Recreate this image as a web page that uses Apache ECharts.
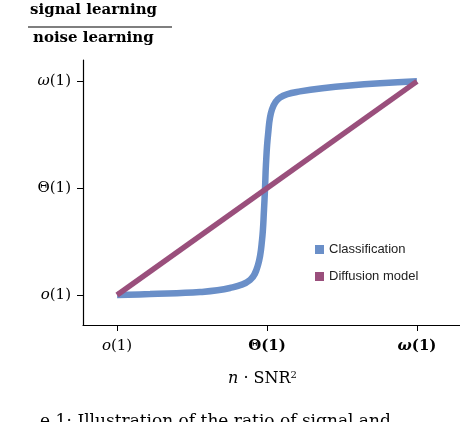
<!DOCTYPE html>
<html>
<head>
<meta charset="utf-8">
<script src="https://cdn.jsdelivr.net/npm/echarts@6/dist/echarts.min.js"></script>
<style>html,body{margin:0;padding:0;background:#fff}#c{width:460px;height:422px}</style>
</head>
<body>
<div id="c"></div>
<script>
'use strict';
// x: 0 = o(1), 1 = Θ(1), 2 = ω(1); same for y
const xTicks = [0, 1, 2];
const yTicks = [0, 1, 2];
const xTickLabels = ['{i|o}(1)', '{b|Θ(1)}', '{bi|ω}{b|(1)}'];
const yTickLabels = ['{i|o}(1)', 'Θ(1)', '{i|ω}(1)'];

const classification = [
    [0, 0], [0.22, 0.01], [0.553, 0.028], [0.753, 0.066], [0.887, 0.141],
    [0.94, 0.282], [0.967, 0.516], [0.98, 0.798], [0.987, 1.005], [0.993, 1.221],
    [1.007, 1.502], [1.033, 1.737], [1.087, 1.85], [1.22, 1.906], [1.553, 1.962], [2, 2]
];
const diffusion = [[0, 0], [2, 2]];

const serif = '"DejaVu Serif", "Liberation Serif", serif';
const rich = {
    i: {fontStyle: 'italic', fontFamily: serif, fontSize: 15},
    b: {fontWeight: 'bold', fontFamily: serif, fontSize: 15},
    bi: {fontStyle: 'italic', fontWeight: 'bold', fontFamily: serif, fontSize: 15}
};

let chart = echarts.init(document.getElementById('c'));
let option = {
    animation: false,
    grid: {left: 83, right: 0, top: 60, bottom: 97},
    legend: {
        orient: 'vertical', left: 310, top: 238, itemGap: 14,
        itemWidth: 9, itemHeight: 9, icon: 'rect',
        textStyle: {fontFamily: '"Liberation Sans", Arial, sans-serif', fontSize: 13, color: '#222'},
        data: ['Classification', 'Diffusion model']
    },
    xAxis: {
        type: 'value', min: -0.227, max: 2.287,
        axisLine: {onZero: false, lineStyle: {color: '#000', width: 1.2}},
        splitLine: {show: false},
        axisTick: {customValues: xTicks, length: 6, lineStyle: {color: '#000'}},
        axisLabel: {
            customValues: xTicks, margin: 14, color: '#000', fontFamily: serif, fontSize: 15, rich: rich,
            formatter: v => xTickLabels[xTicks.indexOf(Math.round(v))]
        }
    },
    yAxis: {
        type: 'value', min: -0.28, max: 2.2,
        axisLine: {show: true, onZero: false, lineStyle: {color: '#000', width: 1.2}},
        splitLine: {show: false},
        axisTick: {show: true, customValues: yTicks, length: 6, lineStyle: {color: '#000'}},
        axisLabel: {
            customValues: yTicks, margin: 12, color: '#000', fontFamily: serif, fontSize: 15, rich: rich,
            formatter: v => yTickLabels[yTicks.indexOf(Math.round(v))]
        }
    },
    series: [{
        name: 'Classification', type: 'line', data: classification, smooth: 0.4,
        showSymbol: false, color: '#6a8fc8', lineStyle: {width: 6.5}
    }, {
        name: 'Diffusion model', type: 'line', data: diffusion,
        showSymbol: false, color: '#9a4f7c', lineStyle: {width: 5.5}
    }],
    graphic: [
        {type: 'text', left: 30, top: 3, style: {text: 'signal learning', font: 'bold 15px ' + serif, fill: '#000'}},
        {type: 'line', shape: {x1: 28, y1: 27, x2: 172, y2: 27}, style: {stroke: '#000', lineWidth: 1.2}},
        {type: 'text', left: 33, top: 31, style: {text: 'noise learning', font: 'bold 15px ' + serif, fill: '#000'}},
        {type: 'text', left: 228, top: 370, style: {
            text: '{i|n} · SNR{s|2}', fill: '#000', font: '16px ' + serif,
            rich: {i: {fontStyle: 'italic', fontFamily: serif, fontSize: 16}, s: {fontSize: 10, fontFamily: serif, verticalAlign: 'top', padding: [0, 0, 8, 0]}}
        }},
        {type: 'text', left: 40, top: 413, style: {text: 'e 1: Illustration of the ratio of signal and', font: '17px ' + serif, fill: '#000'}}
    ]
};
chart.setOption(option);
</script>
</body>
</html>
